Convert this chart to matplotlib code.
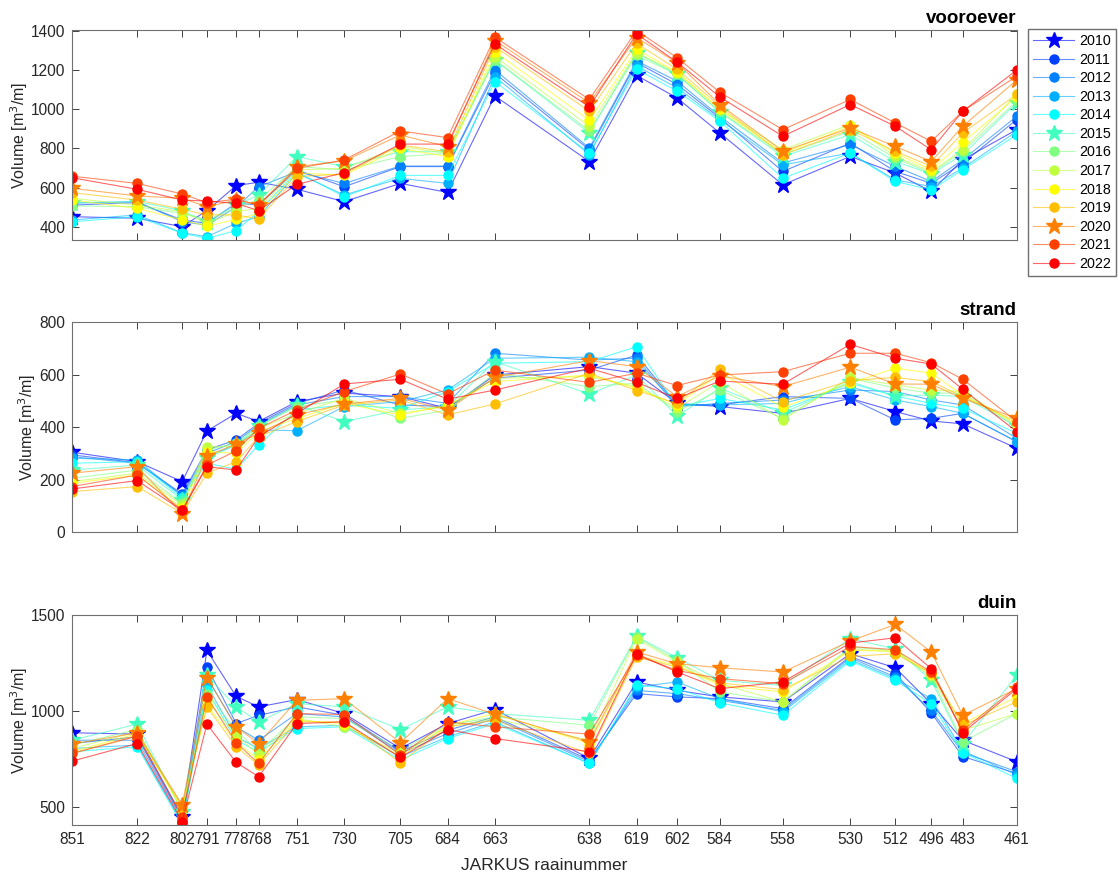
import matplotlib
matplotlib.use('Agg')
import matplotlib.pyplot as plt
from matplotlib.lines import Line2D

plt.rcParams['font.family'] = ['Liberation Sans', 'DejaVu Sans']

raaien = ['851', '822', '802', '791', '778', '768', '751', '730', '705', '684', '663',
          '638', '619', '602', '584', '558', '530', '512', '496', '483', '461']
afstand = [0, 29, 49, 60, 73, 83, 100, 121, 146, 167, 188,
           230, 251, 269, 288, 316, 346, 366, 382, 396, 420]

jaren = [2010, 2011, 2012, 2013, 2014, 2015, 2016, 2017, 2018, 2019, 2020, 2021, 2022]
kleuren = ['#0000FF', '#0040FF', '#0080FF', '#00B0FF', '#00FFFF', '#40FFBF', '#80FF80',
           '#BFFF40', '#FFFF00', '#FFBF00', '#FF8000', '#FF4000', '#FF0000']
markers = ['*', 'o', 'o', 'o', 'o', '*', 'o', 'o', 'o', 'o', '*', 'o', 'o']

vooroever = [
    [451, 443, 400, 482, 610, 627, 591, 528, 621, 575, 1068, 733, 1173, 1058, 879, 614, 759, 674, 580, 742, 896],
    [510, 523, 434, 417, 520, 511, 690, 604, 707, 707, 1184, 793, 1238, 1127, 956, 682, 827, 682, 622, 725, 947],
    [520, 528, 425, 408, 500, 604, 681, 621, 710, 710, 1201, 802, 1247, 1144, 964, 725, 819, 708, 631, 742, 964],
    [434, 460, 369, 349, 417, 451, 673, 562, 647, 621, 1167, 768, 1221, 1110, 947, 716, 776, 639, 605, 699, 887],
    [425, 451, 366, 340, 380, 477, 681, 553, 662, 662, 1141, 776, 1204, 1093, 939, 648, 776, 631, 588, 691, 870],
    [523, 528, 482, 425, 511, 562, 758, 707, 783, 783, 1252, 879, 1289, 1178, 985, 759, 870, 733, 670, 768, 1033],
    [506, 502, 468, 434, 494, 536, 707, 690, 758, 775, 1252, 891, 1275, 1178, 990, 768, 887, 750, 674, 785, 1042],
    [545, 510, 477, 417, 477, 494, 690, 698, 809, 775, 1269, 913, 1289, 1187, 1002, 793, 922, 759, 682, 793, 1076],
    [536, 494, 434, 403, 437, 468, 673, 664, 800, 758, 1294, 944, 1306, 1190, 999, 776, 913, 776, 691, 831, 1063],
    [574, 536, 489, 460, 460, 439, 656, 669, 817, 783, 1320, 990, 1337, 1204, 1016, 768, 896, 785, 708, 879, 1076],
    [596, 557, 545, 502, 536, 511, 707, 736, 868, 809, 1351, 1033, 1366, 1238, 1024, 785, 904, 810, 733, 913, 1149],
    [658, 621, 567, 523, 540, 511, 698, 741, 889, 855, 1368, 1050, 1402, 1263, 1087, 896, 1050, 930, 836, 990, 1169],
    [650, 591, 536, 531, 519, 482, 616, 676, 822, 822, 1334, 1012, 1385, 1241, 1063, 862, 1024, 913, 793, 990, 1200],
]

strand = [
    [305, 269, 193, 386, 453, 422, 498, 530, 517, 472, 599, 631, 606, 491, 479, 453, 510, 460, 424, 413, 320],
    [295, 265, 146, 314, 352, 415, 491, 542, 485, 479, 587, 618, 675, 485, 485, 517, 510, 428, 434, 453, 345],
    [288, 263, 142, 301, 345, 409, 485, 517, 517, 491, 682, 656, 663, 479, 491, 504, 542, 536, 504, 485, 358],
    [282, 276, 136, 288, 333, 390, 387, 479, 498, 542, 663, 667, 650, 485, 485, 491, 555, 504, 479, 453, 345],
    [263, 269, 130, 263, 240, 333, 466, 485, 472, 536, 644, 650, 707, 479, 510, 466, 568, 519, 491, 472, 377],
    [237, 256, 123, 282, 333, 403, 485, 422, 466, 479, 650, 527, 599, 443, 549, 453, 574, 519, 523, 517, 403],
    [206, 237, 110, 314, 339, 405, 479, 504, 434, 466, 606, 555, 568, 460, 542, 434, 587, 549, 530, 530, 403],
    [193, 225, 104, 326, 326, 396, 453, 510, 453, 479, 587, 593, 555, 472, 574, 428, 590, 561, 542, 536, 409],
    [187, 218, 91, 307, 301, 383, 434, 491, 447, 485, 574, 599, 549, 485, 606, 476, 568, 625, 606, 523, 415],
    [155, 174, 72, 225, 269, 364, 422, 485, 504, 447, 489, 606, 540, 491, 621, 498, 578, 590, 574, 517, 422],
    [225, 250, 70, 292, 336, 377, 447, 489, 510, 466, 590, 654, 631, 517, 596, 555, 629, 565, 564, 510, 434],
    [174, 218, 85, 256, 310, 396, 466, 536, 603, 527, 618, 571, 606, 559, 599, 612, 682, 682, 646, 583, 422],
    [165, 197, 83, 250, 237, 364, 453, 565, 583, 507, 542, 625, 571, 510, 576, 564, 716, 663, 641, 545, 383],
]

duin = [
    [886, 879, 449, 1315, 1076, 1021, 1059, 986, 804, 934, 1007, 752, 1151, 1107, 1073, 1047, 1298, 1225, 1038, 847, 735],
    [830, 865, 440, 1229, 934, 977, 1021, 977, 787, 899, 969, 744, 1090, 1073, 1064, 1012, 1284, 1194, 990, 762, 674],
    [847, 847, 432, 1177, 917, 847, 986, 969, 778, 882, 960, 735, 1107, 1090, 1055, 1003, 1277, 1177, 1003, 783, 683],
    [804, 822, 414, 1133, 865, 804, 917, 925, 761, 865, 943, 726, 1125, 1151, 1064, 995, 1267, 1168, 1064, 791, 666],
    [787, 813, 406, 1107, 847, 787, 908, 917, 744, 856, 934, 726, 1133, 1116, 1042, 977, 1260, 1159, 1038, 783, 648],
    [847, 931, 475, 1185, 1021, 943, 1038, 1021, 903, 1021, 986, 951, 1388, 1277, 1159, 1133, 1376, 1324, 1159, 830, 1185],
    [822, 903, 484, 1090, 899, 787, 969, 960, 796, 925, 969, 925, 1385, 1263, 1099, 1047, 1333, 1315, 1177, 839, 986],
    [804, 891, 492, 1055, 873, 770, 960, 917, 778, 917, 960, 847, 1376, 1255, 1142, 1047, 1324, 1307, 1185, 899, 986],
    [787, 882, 487, 1029, 839, 744, 951, 934, 761, 925, 986, 830, 1289, 1237, 1133, 1099, 1315, 1312, 1194, 934, 1073],
    [778, 873, 504, 1021, 813, 718, 943, 943, 730, 917, 951, 778, 1281, 1229, 1146, 1111, 1284, 1298, 1198, 925, 1047],
    [827, 886, 510, 1173, 917, 830, 1055, 1064, 834, 1064, 983, 839, 1307, 1246, 1225, 1203, 1364, 1451, 1307, 977, 1116],
    [778, 868, 449, 1073, 834, 726, 986, 981, 770, 943, 917, 879, 1289, 1211, 1168, 1142, 1336, 1319, 1203, 899, 1125],
    [738, 830, 423, 931, 731, 657, 934, 943, 757, 903, 856, 787, 1298, 1203, 1116, 1151, 1354, 1381, 1220, 886, 1116],
]

panelen = [('vooroever', vooroever, (332, 1405), [400, 600, 800, 1000, 1200, 1400]),
           ('strand', strand, (0, 800), [0, 200, 400, 600, 800]),
           ('duin', duin, (405, 1500), [500, 1000, 1500])]


def rgba(kleur, a):
    r, g, b, _ = matplotlib.colors.to_rgba(kleur)
    return (r, g, b, a)


def marker_size(m):
    if m == '*':
        return 12
    return 6.5


fig = plt.figure(figsize=(11.19, 8.72), dpi=100)
bottoms = [0.7248, 0.3896, 0.0539]

for i, (naam, data, ylim, yticks) in enumerate(panelen):
    ax = fig.add_axes([0.0643, bottoms[i], 0.8443, 0.2408])
    for j, jaar in enumerate(jaren):
        ax.plot(afstand, data[j], color=rgba(kleuren[j], 0.6), linewidth=0.8,
                marker=markers[j], markersize=marker_size(markers[j]),
                markerfacecolor=kleuren[j], markeredgecolor=kleuren[j])
    ax.set_xlim(afstand[0], afstand[-1])
    ax.set_ylim(ylim)
    ax.set_yticks(yticks)
    ax.set_xticks(afstand)
    if i == 2:
        ax.set_xticklabels(raaien)
        ax.set_xlabel('JARKUS raainummer', fontsize=12.5, color='#262626', labelpad=8)
    else:
        ax.set_xticklabels([])
    ax.set_ylabel('Volume [m$^3$/m]', fontsize=11.5, color='#262626', labelpad=0.5)
    ax.set_title(naam, loc='right', fontweight='bold', fontsize=13.5, pad=5)
    ax.tick_params(direction='in', top=True, right=True, length=5, width=0.7,
                   color='#404040', labelcolor='#262626', labelsize=11.2, pad=5)
    for s in ax.spines.values():
        s.set_color('#707070')
        s.set_linewidth(0.8)

handles = []
for j, jaar in enumerate(jaren):
    handles.append(Line2D([0], [0], color=rgba(kleuren[j], 0.6), linewidth=0.8,
                          marker=markers[j], markersize=marker_size(markers[j]),
                          markerfacecolor=kleuren[j], markeredgecolor=kleuren[j]))

fig.legend(handles, [str(j) for j in jaren], loc='upper left',
           bbox_to_anchor=(1028 / 1119, 1 - 29 / 872), fontsize=10.3,
           frameon=True, fancybox=False, edgecolor='#707070', framealpha=1,
           handlelength=2.9, labelspacing=0.32, borderpad=0.35, handletextpad=0.3,
           borderaxespad=0)

plt.savefig('out.png', dpi=100)
